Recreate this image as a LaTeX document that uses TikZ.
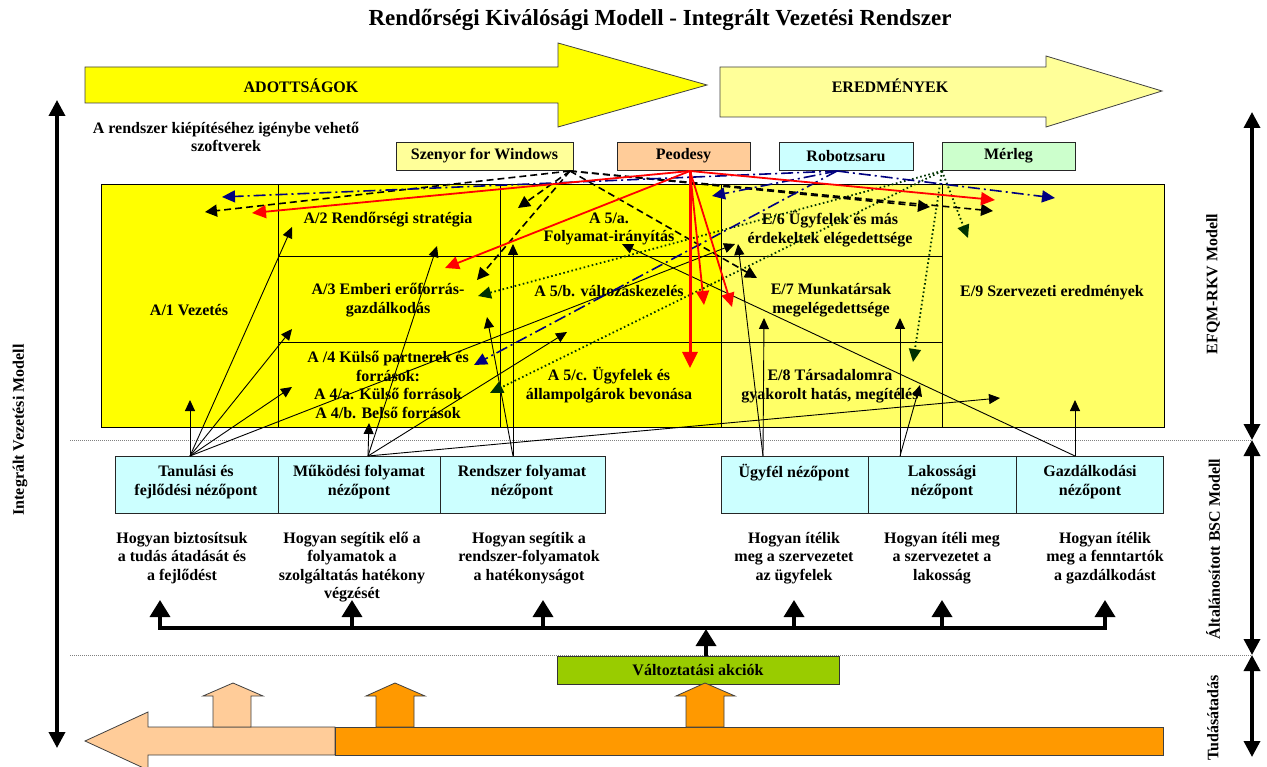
\documentclass[tikz,border=0pt]{standalone}
\usepackage{fontspec}
\setmainfont{Liberation Serif}
\usetikzlibrary{arrows.meta}
\definecolor{adYellow}{HTML}{FFFF00}
\definecolor{paleYellow}{HTML}{FFFF99}
\definecolor{resYellow}{HTML}{FFFF66}
\definecolor{peach}{HTML}{FFCC99}
\definecolor{paleCyan}{HTML}{CCFFFF}
\definecolor{paleGreen}{HTML}{CCFFCC}
\definecolor{actGreen}{HTML}{99CC00}
\definecolor{deepOrange}{HTML}{FF9900}
\definecolor{navyLine}{HTML}{000080}
\definecolor{forestLine}{HTML}{003300}
\definecolor{sepGray}{HTML}{808080}

\begin{document}
\begin{tikzpicture}[x=1pt,y=-1pt,
  every node/.style={inner sep=0pt,outer sep=0pt},
  lbl/.style={font=\bfseries\fontsize{16}{18.5}\selectfont,align=center},
  ttl/.style={font=\bfseries\fontsize{23}{26}\selectfont},
  cell/.style={draw=black,line width=0.9pt,anchor=north west},
  swbox/.style={draw=black!85,line width=0.9pt,anchor=north west,minimum height=28,lbl},
  bscbox/.style={draw=black!85,line width=0.9pt,fill=paleCyan,anchor=north west,minimum height=57},
  blockarrow/.style={draw=black!75,line width=0.8pt},
  dashln/.style={draw=black,line width=1.6pt,dash pattern=on 7pt off 4pt,-{Triangle[length=12pt,width=12pt]}},
  peoln/.style={draw=red,line width=1.8pt,-{Triangle[length=14pt,width=13pt]}},
  peothick/.style={draw=red,line width=3pt,-{Triangle[length=16pt,width=15pt]}},
  roboln/.style={draw=navyLine,line width=1.6pt,dash pattern=on 12pt off 4pt on 2pt off 4pt,-{Triangle[length=13pt,width=12pt]}},
  merln/.style={draw=forestLine,line width=1.8pt,dash pattern=on 1.6pt off 2.6pt,-{Triangle[length=13pt,width=12pt]}},
  linkln/.style={draw=black,line width=0.9pt,-{Triangle[length=11pt,width=10pt]}},
  spine/.style={line width=3.5pt,{Triangle[length=16pt,width=16pt]}-{Triangle[length=16pt,width=16pt]}},
  busln/.style={line width=3.5pt},
  busarr/.style={line width=3.5pt,-{Triangle[length=17pt,width=20pt]}},
  sepln/.style={draw=sepGray,line width=0.8pt,dash pattern=on 1pt off 1pt}
]
\useasboundingbox[fill=white] (0,0) rectangle (1267,767);

% ---------- title ----------
\node[ttl] (title) at (660,20) {Rendőrségi Kiválósági Modell - Integrált Vezetési Rendszer};

% ---------- enablers / results banners ----------
\filldraw[blockarrow,fill=adYellow] (85,67) -- (558,67) -- (558,43) -- (707,85) -- (558,127) -- (558,103) -- (85,103) -- cycle;
\node[lbl] (adott) at (301,86) {ADOTTSÁGOK};
\filldraw[blockarrow,fill=paleYellow] (720,67) -- (1046,67) -- (1046,56) -- (1162,91) -- (1046,127) -- (1046,117) -- (720,117) -- cycle;
\node[lbl] (ered) at (890,86) {EREDMÉNYEK};

\node[lbl] (swnote) at (226,137) {A rendszer kiépítéséhez igénybe vehető\\szoftverek};

% ---------- software boxes ----------
\node[swbox,fill=paleYellow,minimum width=177] (szenyor) at (396,142) {Szenyor for Windows};
\node[swbox,fill=peach,minimum width=133] (peodesy) at (617,142) {Peodesy};
\node[swbox,fill=paleCyan,minimum width=134] (robot) at (779,142) {Robotzsaru};
\node[swbox,fill=paleGreen,minimum width=133] (merleg) at (942,142) {Mérleg};

% ---------- EFQM grid ----------
\node[cell,fill=adYellow,minimum width=177,minimum height=243] (a1) at (101,184) {};
\node[cell,fill=adYellow,minimum width=222,minimum height=72] (a2) at (278,184) {};
\node[cell,fill=adYellow,minimum width=222,minimum height=86] (a3) at (278,256) {};
\node[cell,fill=adYellow,minimum width=222,minimum height=85] (a4) at (278,342) {};
\node[cell,fill=adYellow,minimum width=221,minimum height=72] (a5a) at (500,184) {};
\node[cell,fill=adYellow,minimum width=221,minimum height=86] (a5b) at (500,256) {};
\node[cell,fill=adYellow,minimum width=221,minimum height=85] (a5c) at (500,342) {};
\node[cell,fill=resYellow,minimum width=221,minimum height=72] (e6) at (721,184) {};
\node[cell,fill=resYellow,minimum width=221,minimum height=86] (e7) at (721,256) {};
\node[cell,fill=resYellow,minimum width=221,minimum height=85] (e8) at (721,342) {};
\node[cell,fill=resYellow,minimum width=222,minimum height=243] (e9) at (942,184) {};

\node[lbl] (a1t) at (189,310) {A/1 Vezetés};
\node[lbl] (a2t) at (388,220) {A/2 Rendőrségi stratégia};
\node[lbl] (a3t) at (388,300) {A/3 Emberi erőforrás-\\gazdálkodás};
\node[lbl] (a4t) at (388,385) {A /4 Külső partnerek és\\források:\\A 4/a. Külső források\\A 4/b. Belső források};
\node[lbl] (a5at) at (609,229) {A 5/a.\\Folyamat-irányítás};
\node[lbl] (a5bt) at (609,291) {A 5/b. változáskezelés};
\node[lbl] (a5ct) at (609,385) {A 5/c. Ügyfelek és\\állampolgárok bevonása};
\node[lbl] (e6t) at (830,229) {E/6 Ügyfelek és más\\érdekeltek elégedettsége};
\node[lbl] (e7t) at (831,300) {E/7 Munkatársak\\megelégedettsége};
\node[lbl] (e8t) at (830,386) {E/8 Társadalomra\\gyakorolt hatás, megítélés};
\node[lbl] (e9t) at (1052,293) {E/9 Szervezeti eredmények};

% ---------- section separators ----------
\coordinate (sepL1) at (70,440);  \coordinate (sepR1) at (1252,440);
\coordinate (sepL2) at (70,655);  \coordinate (sepR2) at (1252,655);
\draw[sepln] (sepL1) -- (sepR1);
\draw[sepln] (sepL2) -- (sepR2);

% ---------- BSC perspectives ----------
\node[bscbox,minimum width=163] (bscT) at (115,456) {};
\node[bscbox,minimum width=162] (bscM) at (278,456) {};
\node[bscbox,minimum width=165] (bscR) at (440,456) {};
\node[bscbox,minimum width=147] (bscU) at (721,456) {};
\node[bscbox,minimum width=148] (bscL) at (868,456) {};
\node[bscbox,minimum width=147] (bscG) at (1016,456) {};
\node[lbl] (bscTt) at (196,482) {Tanulási és\\fejlődési nézőpont};
\node[lbl] (bscMt) at (359,482) {Működési folyamat\\nézőpont};
\node[lbl] (bscRt) at (522,482) {Rendszer folyamat\\nézőpont};
\node[lbl] (bscUt) at (794,473) {Ügyfél nézőpont};
\node[lbl] (bscLt) at (942,482) {Lakossági\\nézőpont};
\node[lbl] (bscGt) at (1090,482) {Gazdálkodási\\nézőpont};

% ---------- guiding questions ----------
\node[lbl] (q1) at (182,558) {Hogyan biztosítsuk\\a tudás átadását és\\a fejlődést};
\node[lbl] (q2) at (352,567) {Hogyan segítik elő a\\folyamatok a\\szolgáltatás hatékony\\végzését};
\node[lbl] (q3) at (529,558) {Hogyan segítik a\\rendszer-folyamatok\\a hatékonyságot};
\node[lbl] (q4) at (794,558) {Hogyan ítélik\\meg a szervezetet\\az ügyfelek};
\node[lbl] (q5) at (942,558) {Hogyan ítéli meg\\a szervezetet a\\lakosság};
\node[lbl] (q6) at (1105,558) {Hogyan ítélik\\meg a fenntartók\\a gazdálkodást};

% ---------- feedback bus ----------
\coordinate (busL) at (158.25,628); \coordinate (busR) at (1106.75,628);
\draw[busln] (busL) -- (busR);
\foreach \k/\bx in {1/160,2/352,3/543,4/794,5/942,6/1105}{
  \coordinate (busB\k) at (\bx,629.75);
  \coordinate (busT\k) at (\bx,600);
  \draw[busarr] (busB\k) -- (busT\k);
}

% ---------- change actions ----------
\node[draw=black!80,line width=0.9pt,fill=actGreen,anchor=north west,minimum width=282,minimum height=28,lbl] (chg) at (557,656) {Változtatási akciók};
\coordinate (chgTop) at (706,656);
\coordinate (busC) at (706,629);
\draw[busarr] (chgTop) -- (busC);

% ---------- knowledge transfer arrows ----------
\filldraw[blockarrow,fill=peach] (335,727) -- (148,727) -- (148,712) -- (85,741) -- (148,770) -- (148,755) -- (335,755) -- cycle;
\filldraw[blockarrow,fill=deepOrange] (335,727) rectangle (1163,755);
\filldraw[blockarrow,fill=peach] (213,727) -- (213,696) -- (203,696) -- (233,683) -- (263,696) -- (251,696) -- (251,727) -- cycle;
\filldraw[blockarrow,fill=deepOrange] (376,727) -- (376,696) -- (366,696) -- (395,683) -- (425,696) -- (414,696) -- (414,727) -- cycle;
\filldraw[blockarrow,fill=deepOrange] (686,727) -- (686,696) -- (676,696) -- (705,683) -- (735,696) -- (724,696) -- (724,727) -- cycle;

% ---------- side scales ----------
\coordinate (ivTop) at (57,100); \coordinate (ivBot) at (57,748);
\draw[spine] (ivTop) -- (ivBot);
\node[lbl,rotate=90] (ivLbl) at (20,430) {Integrált Vezetési Modell};
\coordinate (rsA) at (1252,112); \coordinate (rsB) at (1252,440);
\coordinate (rsC) at (1252,655); \coordinate (rsD) at (1252,757);
\draw[spine] (rsA) -- (rsB);
\draw[spine] (rsB) -- (rsC);
\draw[spine] (rsC) -- (rsD);
\node[lbl,rotate=90] (efqmLbl) at (1213,284) {EFQM-RKV Modell};
\node[lbl,rotate=90] (bscLbl) at (1213,549) {Általánosított BSC Modell};
\node[lbl,rotate=90] (tudLbl) at (1213,718) {Tudásátadás};

% ---------- connector end points ----------
\coordinate (szO) at (570,171);
\coordinate (peO) at (690,171);
\coordinate (roO) at (837,171);
\coordinate (meO) at (942,171);
\coordinate (tO) at (190,456);
\coordinate (mO) at (368,456);
\coordinate (rsO) at (513,456);
\coordinate (uO) at (763,456);
\coordinate (lO) at (900,456);
\coordinate (gO) at (1075,456);

\coordinate (szT1) at (205,212);
\coordinate (szT2) at (477,280);
\coordinate (szT3) at (518,208);
\coordinate (szT4) at (757,278);
\coordinate (szT5) at (930,207);
\coordinate (szT6) at (993,211);
\coordinate (peT1) at (252,213);
\coordinate (peT2) at (445,268);
\coordinate (peT3) at (690,368);
\coordinate (peT4) at (704,305);
\coordinate (peT5) at (732,307);
\coordinate (peT6) at (995,200);
\coordinate (roT1) at (222,197);
\coordinate (roT2) at (712,196);
\coordinate (roT3) at (474,365);
\coordinate (roT4) at (1055,198);
\coordinate (meT1) at (478,296);
\coordinate (meT2) at (490,393);
\coordinate (meT3) at (913,362);
\coordinate (meT4) at (968,238);
\coordinate (tT1) at (190,400);
\coordinate (tT2) at (292,227);
\coordinate (tT3) at (292,329);
\coordinate (tT4) at (292,387);
\coordinate (tT5) at (735,244);
\coordinate (mT1) at (369,423);
\coordinate (mT2) at (437,246);
\coordinate (mT3) at (567,332);
\coordinate (mT4) at (1000,398);
\coordinate (rsT1) at (513,244);
\coordinate (rsT2) at (487,317);
\coordinate (uT1) at (738,244);
\coordinate (uT2) at (764,318);
\coordinate (lT1) at (900,318);
\coordinate (lT2) at (920,385);
\coordinate (gT1) at (1075,400);
\coordinate (gT2) at (622,244);

% ---------- links from the BSC perspectives ----------
\foreach \s/\t in {tO/tT1,tO/tT2,tO/tT3,tO/tT4,tO/tT5,mO/mT1,mO/mT2,mO/mT3,mO/mT4,rsO/rsT1,rsO/rsT2,uO/uT1,uO/uT2,lO/lT1,lO/lT2,gO/gT1,gO/gT2}
  \draw[linkln] (\s) -- (\t);

% ---------- software support links ----------
\foreach \t in {meT1,meT2,meT3,meT4} \draw[merln] (meO) -- (\t);
\foreach \t in {szT1,szT2,szT3,szT4,szT5,szT6} \draw[dashln] (szO) -- (\t);
\foreach \t in {roT1,roT2,roT3,roT4} \draw[roboln] (roO) -- (\t);
\foreach \t in {peT1,peT2,peT4,peT5,peT6} \draw[peoln] (peO) -- (\t);
\draw[peothick] (peO) -- (peT3);

\end{tikzpicture}
\end{document}
